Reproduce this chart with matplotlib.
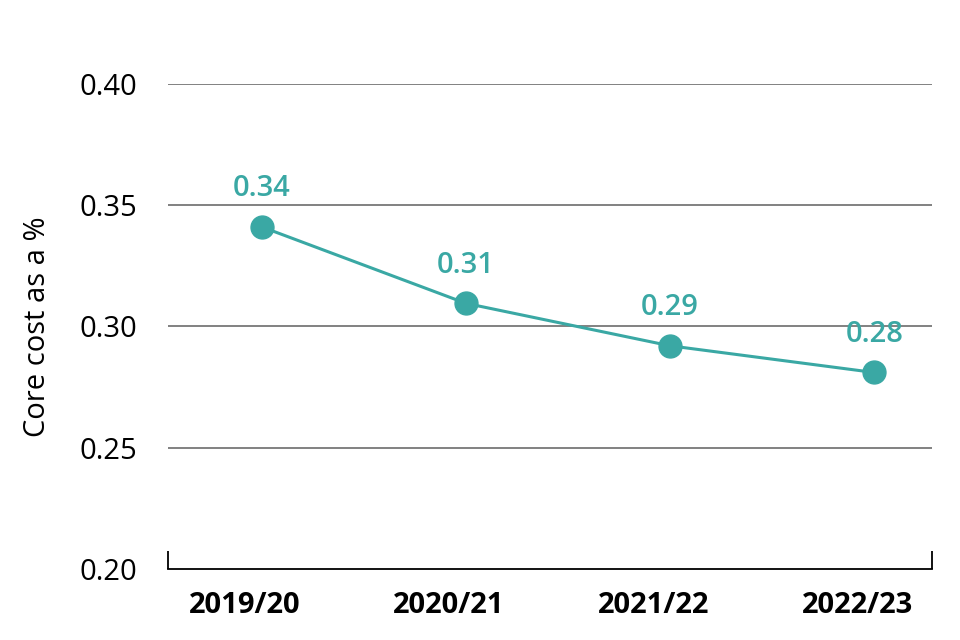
import numpy as np
import matplotlib.pyplot as plt

years = ['2019/20', '2020/21', '2021/22', '2022/23']
core_cost = [0.341, 0.3095, 0.292, 0.281]
value_labels = ['0.34', '0.31', '0.29', '0.28']

teal = '#3aa8a4'
plt.rcParams['font.family'] = ['Open Sans', 'DejaVu Sans']

fig = plt.figure(figsize=(9.6, 6.4), dpi=100)
ax = fig.add_axes([0.175, 0.111, 0.796, 0.758])

x = np.arange(len(years))
ax.plot(x, core_cost, color=teal, linewidth=2.2, marker='o',
        markersize=16.5, zorder=3)
for xi, yi, lab in zip(x, core_cost, value_labels):
    ax.annotate(lab, (xi, yi), xytext=(0, 17), textcoords='offset points',
                ha='center', va='bottom', color=teal, fontsize=21,
                fontweight='semibold')

ax.set_xlim(-0.46, 3.284)
ax.set_ylim(0.20, 0.40)
ax.set_yticks([0.20, 0.25, 0.30, 0.35, 0.40])
ax.set_yticklabels(['0.20', '0.25', '0.30', '0.35', '0.40'], fontsize=21)
ax.set_xticks(x - 0.083)
ax.set_xticklabels(years, fontsize=21, fontweight='bold')
ax.set_xticks([-0.46, 3.284], minor=True)
ax.tick_params(axis='x', which='major', length=0, pad=16)
ax.tick_params(axis='x', which='minor', direction='in', length=13,
               width=1.3, color='black')
ax.tick_params(axis='y', length=0, pad=22)

for yv in [0.25, 0.30, 0.35, 0.40]:
    ax.axhline(yv, color='#777777', linewidth=1.3, zorder=1)

for s in ['top', 'right', 'left']:
    ax.spines[s].set_visible(False)
ax.spines['bottom'].set_linewidth(1.3)
ax.set_ylabel('Core cost as a %', fontsize=21, labelpad=20)

fig.savefig('out.png', dpi=100)
